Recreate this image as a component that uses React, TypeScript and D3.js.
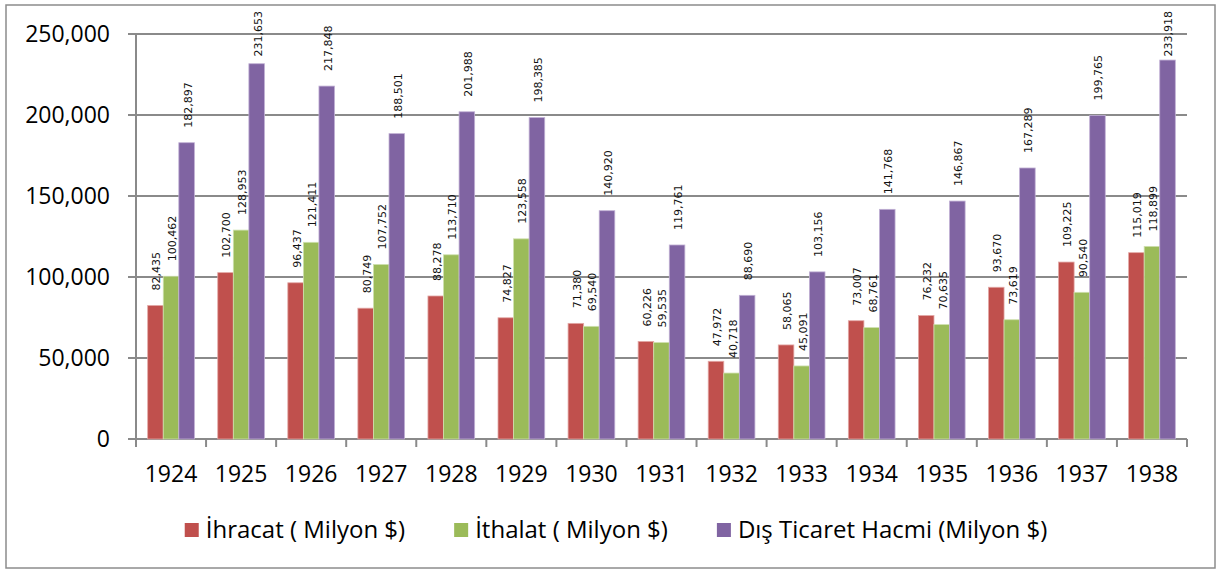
import React, { useEffect, useRef } from "react";
import * as d3 from "d3";

const years = ["1924", "1925", "1926", "1927", "1928", "1929", "1930", "1931", "1932", "1933", "1934", "1935", "1936", "1937", "1938"];
const ihracat = [82435, 102700, 96437, 80749, 88278, 74827, 71380, 60226, 47972, 58065, 73007, 76232, 93670, 109225, 115019];
const ithalat = [100462, 128953, 121411, 107752, 113710, 123558, 69540, 59535, 40718, 45091, 68761, 70635, 73619, 90540, 118899];
const disTicaret = [182897, 231653, 217848, 188501, 201988, 198385, 140920, 119761, 88690, 103156, 141768, 146867, 167289, 199765, 233918];
const seriesNames = ["İhracat ( Milyon $)", "İthalat ( Milyon $)", "Dış Ticaret Hacmi (Milyon $)"];
const yTicks = [0, 50000, 100000, 150000, 200000, 250000];

const colors = ["#C0504D", "#9BBB59", "#8064A2"];
const strokes = ["#e3a8a6", "#cfe0ae", "#c0b0d4"];

export default function App() {
  const ref = useRef<SVGSVGElement>(null);

  useEffect(() => {
    const svg = d3.select(ref.current);
    svg.selectAll("*").remove();

    const W = 1216, H = 570;
    const left = 136, right = 1187, top = 34, bottom = 439;
    const axisFont = "'Open Sans', sans-serif";
    const gridColor = "#8a8a8a";

    // outer chart border
    svg.append("rect")
      .attr("x", 6).attr("y", 5)
      .attr("width", W - 7).attr("height", H - 7)
      .attr("fill", "#fff")
      .attr("stroke", "#8c8c8c")
      .attr("stroke-width", 1.5);

    const x = d3.scaleBand().domain(years).range([left, right]).padding(0);
    const keys = ["0", "1", "2"];
    const xs = d3.scaleBand().domain(keys).range([0, x.bandwidth()]).paddingInner(0).paddingOuter(0.75);
    const y = d3.scaleLinear().domain([0, 250000]).range([bottom, top]);

    // gridlines
    svg.append("g").selectAll("line")
      .data(yTicks)
      .enter().append("line")
      .attr("x1", left - 8).attr("x2", right)
      .attr("y1", (d) => y(d)).attr("y2", (d) => y(d))
      .attr("stroke", gridColor)
      .attr("stroke-width", 2);

    // y axis line
    svg.append("line")
      .attr("x1", left).attr("x2", left)
      .attr("y1", top).attr("y2", bottom)
      .attr("stroke", gridColor).attr("stroke-width", 2);

    // x ticks at category edges
    const edges = years.map((yr) => x(yr) as number).concat([right]);
    svg.append("g").selectAll("line")
      .data(edges)
      .enter().append("line")
      .attr("x1", (d) => d).attr("x2", (d) => d)
      .attr("y1", bottom).attr("y2", bottom + 8)
      .attr("stroke", gridColor).attr("stroke-width", 2);

    // y labels
    svg.append("g").selectAll("text")
      .data(yTicks)
      .enter().append("text")
      .attr("x", 110)
      .attr("y", (d) => y(d))
      .attr("dy", "0.36em")
      .attr("text-anchor", "end")
      .style("font-family", axisFont)
      .style("font-size", "23px")
      .attr("fill", "#000")
      .text((d) => d3.format(",")(d));

    // x labels
    svg.append("g").selectAll("text")
      .data(years)
      .enter().append("text")
      .attr("x", (d) => (x(d) as number) + x.bandwidth() / 2)
      .attr("y", 482)
      .attr("text-anchor", "middle")
      .style("font-family", axisFont)
      .style("font-size", "23px")
      .attr("fill", "#000")
      .text((d) => d);

    const allSeries = [ihracat, ithalat, disTicaret];
    const rows = years.map((yr, i) => ({ yr, vals: allSeries.map((s) => s[i]) }));

    const groups = svg.append("g").selectAll("g")
      .data(rows)
      .enter().append("g")
      .attr("transform", (d) => `translate(${x(d.yr)},0)`);

    groups.selectAll("rect")
      .data((d) => d.vals.map((v, k) => ({ v, k })))
      .enter().append("rect")
      .attr("x", (d) => xs(String(d.k)) as number)
      .attr("y", (d) => y(d.v))
      .attr("width", xs.bandwidth())
      .attr("height", (d) => bottom - y(d.v))
      .attr("fill", (d) => colors[d.k])
      .attr("stroke", (d) => strokes[d.k])
      .attr("stroke-width", 0.8);

    // rotated value labels
    groups.selectAll("text")
      .data((d) => d.vals.map((v, k) => ({ v, k })))
      .enter().append("text")
      .attr("transform", (d) => {
        const cx = (xs(String(d.k)) as number) + xs.bandwidth() / 2;
        const label = d3.format(",")(d.v);
        const len = (label.length - 1) * 7 + 3.5;
        let base = y(d.v) - 15;
        if (base - len < 11) base = 11 + len;
        return `translate(${cx},${base}) rotate(-90)`;
      })
      .attr("dy", "0.45em")
      .attr("text-anchor", "start")
      .style("font-family", "'DejaVu Sans', sans-serif")
      .style("font-size", "11px")
      .attr("fill", "#111")
      .text((d) => d3.format(",")(d.v));

    // legend, centered
    const legend = svg.append("g");
    const items = legend.selectAll("g")
      .data(seriesNames)
      .enter().append("g");
    items.append("rect")
      .attr("width", 14).attr("height", 14)
      .attr("y", 523)
      .attr("fill", (d, i) => colors[i]);
    items.append("text")
      .attr("x", 21)
      .attr("y", 538)
      .style("font-family", axisFont)
      .style("font-size", "24px")
      .attr("fill", "#000")
      .text((d) => d);

    const widths: number[] = [];
    items.selectAll("text").each(function () {
      widths.push((this as SVGTextElement).getComputedTextLength());
    });
    const gap = 49;
    const itemW = widths.map((w) => 21 + w);
    const total = d3.sum(itemW) + gap * (itemW.length - 1);
    let cur = 616 - total / 2;
    items.attr("transform", (d, i) => {
      const t = `translate(${cur},0)`;
      cur += itemW[i] + gap;
      return t;
    });
  }, []);

  return (
    <svg
      ref={ref}
      width={1216}
      height={570}
      style={{ position: "absolute", left: 0, top: 0, background: "#fff" }}
    />
  );
}
